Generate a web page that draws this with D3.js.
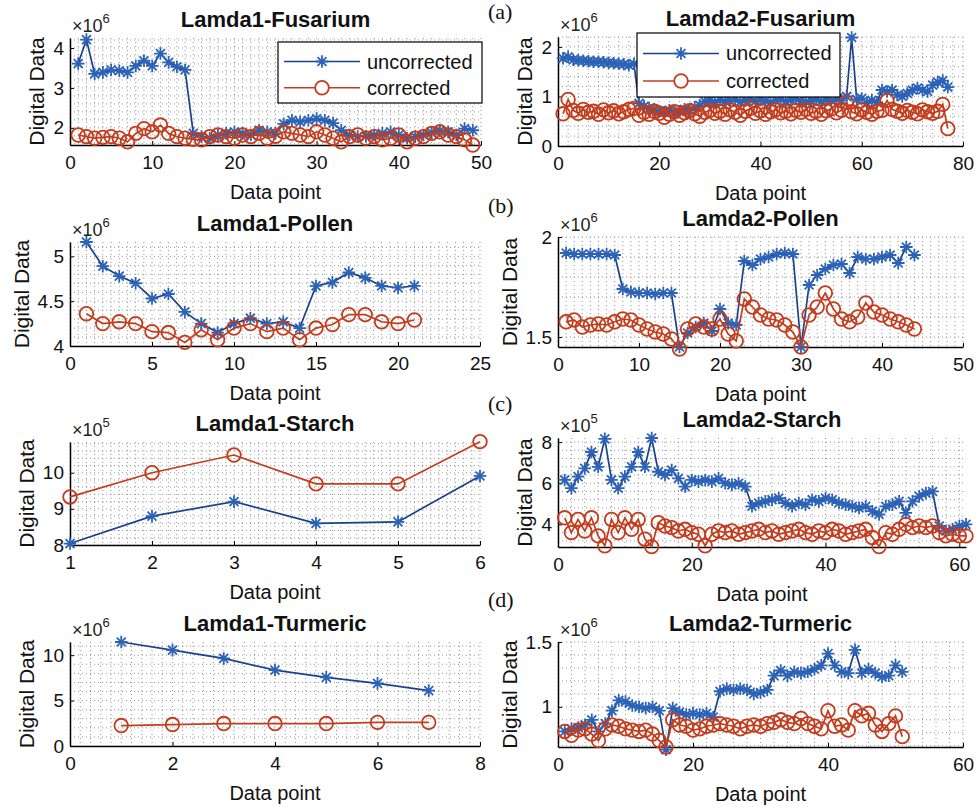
<!DOCTYPE html>
<html><head><meta charset="utf-8">
<script src="https://cdn.jsdelivr.net/npm/d3@7"></script>
<style>
body{margin:0;background:#fff;}
svg{display:block;font-family:"Liberation Sans",Arial,sans-serif;}
</style></head><body>
<svg id="chart" width="979" height="809"></svg>
<script>
// ---------------- DATA ----------------
const titles = ["Lamda1-Fusarium","Lamda2-Fusarium","Lamda1-Pollen","Lamda2-Pollen",
                "Lamda1-Starch","Lamda2-Starch","Lamda1-Turmeric","Lamda2-Turmeric"];
const seriesNames = ["uncorrected","corrected"];
const panelLetters = ["(a)","(b)","(c)","(d)"];
const exponents = [6,6,6,6,5,5,6,6];
const xLabel = "Data point";
const yLabel = "Digital Data";

// Lamda1-Fusarium (x10^6)
const fus1Unc = [3.61,4.21,3.35,3.39,3.45,3.43,3.39,3.55,3.68,3.55,3.86,3.64,3.53,3.45,1.86,1.78,1.74,1.82,1.86,1.90,1.86,1.82,1.94,1.90,1.86,2.10,2.19,2.15,2.19,2.23,2.19,2.12,1.94,1.82,1.78,1.79,1.82,1.86,1.90,1.82,1.74,1.78,1.82,1.88,1.93,1.90,1.82,1.98,1.94];
const fus1Cor = [1.82,1.78,1.74,1.76,1.78,1.74,1.65,1.86,1.98,1.90,2.07,1.86,1.78,1.74,1.71,1.70,1.78,1.82,1.78,1.74,1.82,1.78,1.86,1.74,1.79,1.90,1.86,1.82,1.78,1.90,1.82,1.74,1.65,1.78,1.82,1.74,1.78,1.70,1.74,1.82,1.65,1.74,1.78,1.86,1.90,1.82,1.78,1.70,1.57];
const fus1XTicks = [0,10,20,30,40,50];
const fus1YTicks = [2,3,4];

// Lamda2-Fusarium (x10^6)
const fus2Unc = [1.77,1.80,1.74,1.73,1.72,1.71,1.70,1.70,1.69,1.68,1.67,1.66,1.65,1.63,1.66,
  0.86,0.80,0.76,0.74,0.70,0.68,0.72,0.66,0.70,0.74,0.72,0.78,0.82,
  0.90,0.92,0.88,0.93,0.90,0.91,0.94,0.89,0.92,0.95,0.90,0.93,0.91,0.88,0.92,0.94,0.90,0.93,0.95,0.91,0.89,0.92,0.94,0.90,0.93,0.91,0.95,0.92,
  1.00,2.19,0.94,0.96,0.87,0.92,0.88,1.13,1.10,1.13,1.03,1.00,1.06,1.13,1.17,1.13,1.10,1.23,1.29,1.32,1.19];
const fus2Cor = [0.65,0.94,0.72,0.66,0.74,0.68,0.70,0.64,0.73,0.67,0.71,0.65,0.69,0.74,0.76,0.62,0.68,0.64,0.70,0.66,
  0.58,0.64,0.69,0.62,0.67,0.71,0.65,0.60,0.68,0.72,0.66,0.70,0.64,0.73,0.68,0.62,0.70,0.76,0.66,0.71,
  0.64,0.69,0.73,0.67,0.70,0.65,0.72,0.68,0.74,0.66,0.70,0.64,0.71,0.75,0.67,0.72,0.88,0.69,0.65,0.73,
  0.68,0.64,0.70,0.72,0.92,0.74,0.70,0.66,0.72,0.68,0.65,0.73,0.69,0.66,0.70,0.84,0.35];
const fus2XTicks = [0,20,40,60,80];
const fus2YTicks = [0,1,2];

// Lamda1-Pollen (x10^6)
const pol1Unc = [5.16,4.89,4.78,4.70,4.53,4.58,4.38,4.25,4.15,4.25,4.31,4.25,4.27,4.20,4.67,4.71,4.82,4.76,4.67,4.65,4.67];
const pol1Cor = [4.36,4.25,4.27,4.25,4.16,4.15,4.04,4.18,4.07,4.20,4.25,4.16,4.20,4.07,4.20,4.24,4.35,4.35,4.27,4.25,4.29];
const pol1XTicks = [0,5,10,15,20,25];
const pol1YTicks = [4,4.5,5];

// Lamda2-Pollen (x10^6)
const pol2Unc = [1.92,1.915,1.915,1.915,1.915,1.915,1.91,1.74,1.725,1.72,1.72,1.715,1.72,1.72,1.45,1.52,1.55,1.57,1.53,1.64,1.57,1.56,1.88,1.86,1.89,1.90,1.915,1.92,1.915,1.45,1.76,1.81,1.84,1.86,1.865,1.82,1.90,1.89,1.89,1.90,1.91,1.87,1.95,1.91];
const pol2Cor = [1.576,1.585,1.55,1.56,1.565,1.56,1.576,1.59,1.585,1.56,1.54,1.525,1.515,1.49,1.44,1.54,1.565,1.55,1.54,1.59,1.515,1.48,1.69,1.65,1.61,1.59,1.585,1.56,1.525,1.45,1.61,1.65,1.72,1.64,1.59,1.576,1.60,1.67,1.625,1.61,1.59,1.576,1.56,1.54];
const pol2XTicks = [0,10,20,30,40,50];
const pol2YTicks = [1.5,2];

// Lamda1-Starch (x10^5)
const sta1Unc = [8.04,8.80,9.20,8.60,8.64,9.91];
const sta1Cor = [9.33,10.00,10.49,9.69,9.69,10.86];
const sta1XTicks = [1,2,3,4,5,6];
const sta1YTicks = [8,9,10];

// Lamda2-Starch (x10^5)
const sta2Unc = [6.16,5.76,6.32,6.72,7.52,6.80,8.16,6.16,5.76,6.32,6.80,7.52,6.80,8.20,6.56,6.40,6.64,6.24,5.84,6.16,6.08,6.16,6.08,6.24,6.00,5.92,6.00,5.84,4.88,5.04,5.12,5.20,5.28,5.04,4.88,5.04,4.96,5.20,5.12,5.28,5.20,5.04,4.96,4.88,4.80,4.88,4.64,4.48,4.88,4.96,5.12,4.56,5.12,5.36,5.52,5.60,3.92,3.68,3.76,3.92,4.00];
const sta2Cor = [4.32,3.60,4.24,3.68,4.32,3.44,2.96,4.24,3.60,4.32,3.76,4.24,3.28,2.92,4.08,3.92,3.84,3.68,3.76,3.60,3.52,2.96,3.52,3.68,3.60,3.68,3.52,3.60,3.68,3.76,3.60,3.68,3.52,3.60,3.68,3.76,3.60,3.52,3.68,3.60,3.76,3.68,3.52,3.60,3.68,3.76,3.36,2.92,3.60,3.52,3.76,4.00,3.84,3.92,3.84,3.92,3.60,3.44,3.52,3.44,3.44];
const sta2XTicks = [0,20,40,60];
const sta2YTicks = [4,6,8];

// Lamda1-Turmeric (x10^6)
const tur1Unc = [11.45,10.55,9.64,8.36,7.56,6.90,6.10];
const tur1Cor = [2.25,2.36,2.47,2.47,2.47,2.60,2.60];
const tur1XTicks = [0,2,4,6,8];
const tur1YTicks = [0,5,10];

// Lamda2-Turmeric (x10^6)
const tur2Unc = [0.81,0.83,0.84,0.86,0.90,0.81,0.87,0.97,1.05,1.04,1.01,1.00,0.99,1.00,0.97,0.67,0.99,0.96,0.94,0.95,0.94,0.95,0.92,1.12,1.14,1.13,1.14,1.13,1.10,1.11,1.13,1.24,1.28,1.24,1.27,1.26,1.27,1.29,1.32,1.41,1.32,1.27,1.26,1.44,1.26,1.29,1.26,1.23,1.24,1.32,1.27];
const tur2Cor = [0.81,0.78,0.82,0.83,0.79,0.74,0.83,0.86,0.85,0.83,0.82,0.81,0.82,0.79,0.74,0.69,0.90,0.86,0.85,0.82,0.83,0.85,0.86,0.87,0.86,0.85,0.83,0.85,0.86,0.85,0.87,0.88,0.90,0.88,0.87,0.91,0.87,0.85,0.83,0.97,0.85,0.86,0.82,0.97,0.93,0.95,0.86,0.81,0.87,0.93,0.77];
const tur2XTicks = [0,20,40,60];
const tur2YTicks = [1,1.5];

// ---------------- LAYOUT ----------------
const panels = [
  {unc:fus1Unc, cor:fus1Cor, xd:[0,50], yd:[1.57,4.25], xt:fus1XTicks, yt:fus1YTicks, box:[70,38,481,145], legend:[278,42,482,103]},
  {unc:fus2Unc, cor:fus2Cor, xd:[0,80], yd:[0,2.2],     xt:fus2XTicks, yt:fus2YTicks, box:[558,37,963,146], legend:[637,33,840,97]},
  {unc:pol1Unc, cor:pol1Cor, xd:[0,25], yd:[4,5.16],    xt:pol1XTicks, yt:pol1YTicks, box:[70,242,480,346]},
  {unc:pol2Unc, cor:pol2Cor, xd:[0,50], yd:[1.45,2.0],  xt:pol2XTicks, yt:pol2YTicks, box:[558,237,963,347]},
  {unc:sta1Unc, cor:sta1Cor, xd:[1,6],  yd:[8,10.85],   xt:sta1XTicks, yt:sta1YTicks, box:[70,442,480,545]},
  {unc:sta2Unc, cor:sta2Cor, xd:[0,61], yd:[2.9,8.2],   xt:sta2XTicks, yt:sta2YTicks, box:[558,438,966,547]},
  {unc:tur1Unc, cor:tur1Cor, xd:[0,8],  yd:[0,11.45],   xt:tur1XTicks, yt:tur1YTicks, box:[70,642,480,746]},
  {unc:tur2Unc, cor:tur2Cor, xd:[0,60], yd:[0.69,1.5],  xt:tur2XTicks, yt:tur2YTicks, box:[558,642,963,747]}
];
const letterPos = [[488,19],[488,213],[488,411],[488,607]];

const UNC_LINE = "#1a428c", UNC_MARK = "#2c63b6", COR = "#c43c1c";
const svg = d3.select("#chart");
svg.append("rect").attr("width",979).attr("height",809).attr("fill","#fff");

function starPath(r){
  const d = r*0.7071;
  return `M${-r},0L${r},0M0,${-r}L0,${r}M${-d},${-d}L${d},${d}M${-d},${d}L${d},${-d}`;
}
function stepRange(d0,d1,s){
  const out=[]; const i0=Math.ceil(d0/s-1e-9), i1=Math.floor(d1/s+1e-9);
  for(let i=i0;i<=i1;i++) out.push(+(i*s).toFixed(6));
  return out;
}

panels.forEach((p,pi)=>{
  const [x0,y0,x1,y1] = p.box;
  const x = d3.scaleLinear().domain(p.xd).range([x0,x1]);
  const y = d3.scaleLinear().domain(p.yd).range([y1,y0]);
  const g = svg.append("g");

  // grid (major + minor, dotted)
  const xs = p.xt[1]-p.xt[0], ys = p.yt[1]-p.yt[0];
  const gx = stepRange(p.xd[0],p.xd[1],xs/10), gy = stepRange(p.yd[0],p.yd[1],ys/5);
  const grid = g.append("g").attr("stroke","#6f6f6f").attr("stroke-width",0.9)
    .attr("stroke-dasharray","1,3").attr("opacity",0.8);
  grid.selectAll("line.vx").data(gx).join("line")
    .attr("x1",d=>x(d)).attr("x2",d=>x(d)).attr("y1",y0).attr("y2",y1);
  grid.selectAll("line.hy").data(gy).join("line")
    .attr("x1",x0).attr("x2",x1).attr("y1",d=>y(d)).attr("y2",d=>y(d));

  // axes
  const ax = g.append("g").attr("transform",`translate(0,${y1})`)
    .call(d3.axisBottom(x).tickValues(p.xt).tickFormat(d=>String(d)).tickSizeInner(-4).tickSizeOuter(0).tickPadding(11));
  const ay = g.append("g").attr("transform",`translate(${x0},0)`)
    .call(d3.axisLeft(y).tickValues(p.yt).tickFormat(d=>String(d)).tickSizeInner(-4).tickSizeOuter(0).tickPadding(6));
  [ax,ay].forEach(a=>{
    a.attr("font-family",null).attr("font-size",null);
    a.select(".domain").attr("stroke","#000").attr("stroke-width",1.5);
    a.selectAll(".tick line").attr("stroke","#000").attr("stroke-width",1);
    a.selectAll(".tick text").attr("font-size",19).attr("fill","#111");
  });
  // left edge of y tick labels, to place the y label as MATLAB does
  let tickLeft = x0;
  ay.selectAll(".tick text").each(function(){
    const b = this.getBBox(); tickLeft = Math.min(tickLeft, x0 + b.x);
  });

  // series
  const line = d3.line().x((d,i)=>x(i+1)).y(d=>y(d));
  g.append("path").datum(p.unc).attr("d",line).attr("fill","none")
    .attr("stroke",UNC_LINE).attr("stroke-width",1.7);
  g.append("g").selectAll("path").data(p.unc).join("path")
    .attr("transform",(d,i)=>`translate(${x(i+1)},${y(d)})`)
    .attr("d",starPath(6.3)).attr("stroke",UNC_MARK).attr("stroke-width",1.8).attr("fill","none");
  g.append("path").datum(p.cor).attr("d",line).attr("fill","none")
    .attr("stroke",COR).attr("stroke-width",1.7);
  g.append("g").selectAll("circle").data(p.cor).join("circle")
    .attr("cx",(d,i)=>x(i+1)).attr("cy",d=>y(d)).attr("r",6.8)
    .attr("fill","none").attr("stroke",COR).attr("stroke-width",1.8);

  // title
  g.append("text").attr("x",(x0+x1)/2).attr("y",y0-11).attr("text-anchor","middle")
    .attr("font-size",22).attr("font-weight","bold").attr("fill","#111").text(titles[pi]);
  // exponent
  const ex = g.append("text").attr("x",x0+2).attr("y",y0-6).attr("font-size",18).attr("fill","#222");
  ex.append("tspan").text("\u00d710");
  ex.append("tspan").attr("dy",-9).attr("font-size",13).text(exponents[pi]);
  // axis labels
  g.append("text").attr("x",(x0+x1)/2).attr("y",y1+54).attr("text-anchor","middle")
    .attr("font-size",20).attr("fill","#111").text(xLabel);
  g.append("text").attr("transform",`translate(${tickLeft-9},${(y0+y1)/2}) rotate(-90)`)
    .attr("text-anchor","middle").attr("font-size",21).attr("fill","#111").text(yLabel);

  // legend
  if(p.legend){
    const [lx0,ly0,lx1,ly1] = p.legend;
    const lg = g.append("g");
    lg.append("rect").attr("x",lx0).attr("y",ly0).attr("width",lx1-lx0).attr("height",ly1-ly0)
      .attr("fill","#fff").attr("stroke","#000").attr("stroke-width",1.2);
    const rowsY = [ly0+(ly1-ly0)*0.32, ly0+(ly1-ly0)*0.75];
    seriesNames.forEach((nm,k)=>{
      const yy = rowsY[k];
      lg.append("line").attr("x1",lx0+6).attr("x2",lx0+82).attr("y1",yy).attr("y2",yy)
        .attr("stroke",k===0?UNC_LINE:COR).attr("stroke-width",1.7);
      if(k===0){
        lg.append("path").attr("transform",`translate(${lx0+44},${yy})`).attr("d",starPath(6.3))
          .attr("stroke",UNC_MARK).attr("stroke-width",1.8).attr("fill","none");
      } else {
        lg.append("circle").attr("cx",lx0+44).attr("cy",yy).attr("r",6.8)
          .attr("fill","#fff").attr("stroke",COR).attr("stroke-width",1.8);
      }
      lg.append("text").attr("x",lx0+89).attr("y",yy+7).attr("font-size",20).attr("fill","#111").text(nm);
    });
  }
});

// panel letters
panelLetters.forEach((t,i)=>{
  svg.append("text").attr("x",letterPos[i][0]).attr("y",letterPos[i][1])
    .attr("font-family","'Liberation Serif','Times New Roman',serif").attr("font-size",22)
    .attr("fill","#111").text(t);
});
</script>
</body></html>
